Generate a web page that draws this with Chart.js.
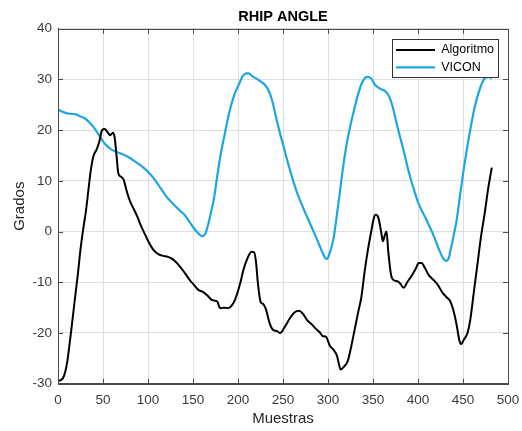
<!DOCTYPE html>
<html>
<head>
<meta charset="utf-8">
<script src="https://cdn.jsdelivr.net/npm/chart.js@4"></script>
<style>
  body { margin: 0; background: #fff; }
</style>
</head>
<body>
<canvas id="hipChart" width="522" height="431"></canvas>
<script>
// Algoritmo (black)
const algX = [0, 4, 7, 10, 13, 16, 19, 22, 25, 28, 31, 34, 36, 38, 40, 43, 46, 49, 52, 55, 58, 61, 63, 65, 67, 70, 73, 76, 80, 84, 88, 92, 96, 100,
    106, 112, 117, 122, 126, 131, 136, 141, 147, 152, 156, 161, 166, 171, 177, 180, 185, 189, 193, 197, 202, 206, 210, 215, 218, 220, 222, 225, 228,
    231, 235, 239, 243, 247, 252, 258, 263, 268, 272, 277, 282, 286, 291, 294, 298, 302, 306, 310, 312, 314, 318, 322, 326, 330, 334, 337, 341, 344,
    348, 351, 353, 356, 359, 361, 363, 365, 367, 370, 373, 377, 380, 384, 388, 393, 397, 401, 404, 408, 412, 417, 422, 427, 432, 436, 440, 443, 446,
    448, 451, 455, 458, 462, 466, 470, 474, 478, 482];
const algY = [-29.4, -29.2, -28.3, -26, -22, -17.5, -13, -8.5, -3.5, 0.5, 4, 8.5, 11.5, 13.8, 15.2, 16.2, 17.8, 20, 20.2, 19.6, 19, 19.5, 18.5, 15, 11.5, 10.8, 10.2, 8.2, 6, 4.5, 3, 1.2, -0.3, -1.8,
    -3.6, -4.5, -4.8, -5, -5.3, -6, -7, -8.2, -9.7, -10.7, -11.5, -11.9, -12.6, -13.5, -13.8, -15.1, -15, -15.1, -14.6, -13.3, -10.5, -7.6, -5.5, -4, -4.1, -6, -10, -13.8, -14.3,
    -15.3, -18, -19.4, -19.6, -20, -18.8, -17, -15.9, -15.6, -16.2, -17.5, -18.3, -19.1, -19.9, -20.6, -20.8, -22.5, -23.3, -24.5, -26, -27.2, -26.6, -25.5, -22.5, -19, -15.5, -13, -7.5, -4,
    0, 2.7, 3.3, 2.7, 0, -1.9, -0.8, 0, -4, -8.5, -9.6, -9.8, -10.2, -11.1, -10, -8.7, -7.5, -6.2, -6.2, -7.3, -8.6, -9.5, -10.5, -12, -13, -13.8, -16, -18.5, -21.5,
    -22.2, -21.3, -20, -17.5, -12, -6.5, -1, 3.5, 8.5, 12.6];

// VICON (blue)
const viconX = [0, 5, 10, 15, 20, 25, 30, 35, 40, 45, 50, 55, 60, 65, 70, 75, 80, 85, 90, 95, 100, 105, 110, 115, 120, 125, 130, 135, 140, 145, 150,
    155, 158, 161, 164, 167, 170, 173, 177, 181, 185, 189, 193, 197, 201, 205, 209, 212, 216, 220, 225, 230, 234, 238, 242, 246, 250, 254, 258, 262,
    266, 270, 274, 278, 282, 286, 290, 294, 297, 299, 302, 306, 310, 313, 317, 321, 325, 329, 333, 337, 341, 344, 348, 352, 356, 360, 364, 368, 372,
    376, 380, 384, 388, 392, 396, 400, 404, 408, 412, 416, 420, 424, 428, 431, 434, 437, 440, 443, 447, 451, 455, 459, 463, 467, 471, 475, 479, 482];
const viconY = [24.1, 23.6, 23.3, 23.2, 23.1, 22.7, 22.3, 21.5, 20.5, 19.2, 17.8, 16.8, 16.1, 15.7, 15.4, 15, 14.5, 13.9, 13.3, 12.6, 11.8, 10.8, 9.6, 8.3, 7, 6, 5.1, 4.2, 3.4, 2.2, 0.9,
    -0.2, -0.7, -0.9, -0.3, 1.5, 3.8, 6.2, 11, 15.5, 19, 22.5, 25.3, 27.5, 29, 30.6, 31.2, 31.2, 30.6, 30.2, 29.6, 28.9, 27.8, 25.8, 22.8, 19.8, 17.2, 14.5, 12, 9.6,
    7.5, 5.7, 4, 2.4, 0.8, -0.8, -2.5, -4.2, -5.2, -5.4, -4.2, -1.5, 3.5, 7.5, 13, 17.5, 21, 24, 26.8, 29, 30.3, 30.5, 30.2, 29, 28.4, 28, 27.6, 26.6, 24.5,
    21.5, 18.7, 16, 13, 10.3, 8, 5.8, 4.2, 2.8, 1.3, -0.2, -2, -3.8, -5.3, -5.8, -5.3, -3, -0.5, 2.3, 7.5, 12.5, 17, 21, 24.5, 27.2, 29.2, 30.4, 30.5, 30.2];

const xTicks = [0, 50, 100, 150, 200, 250, 300, 350, 400, 450, 500];
const yTicks = [-30, -20, -10, 0, 10, 20, 30, 40];

const toPoints = (xs, ys) => xs.map((x, i) => ({ x: x, y: ys[i] }));

const fontFamily = '"Liberation Sans", Arial, Helvetica, sans-serif';
const axisColor = '#4a4a4a';

// box around the axes with inward ticks, like the original plot
const framePlugin = {
    id: 'frame',
    afterLayout(chart) {
        const lg = chart.legend;
        const area = chart.chartArea;
        const w = lg.width;
        lg.left = area.right - 117;
        lg.right = lg.left + w;
        lg.top = area.top + 10;
        lg.bottom = lg.top + 40;
    },
    beforeDatasetsDraw(chart) {
        const { ctx, chartArea: a, scales } = chart;
        ctx.save();
        ctx.strokeStyle = axisColor;
        ctx.lineWidth = 1;
        ctx.beginPath();
        xTicks.forEach(v => {
            const px = Math.round(scales.x.getPixelForValue(v)) + 0.5;
            ctx.moveTo(px, a.bottom); ctx.lineTo(px, a.bottom - 5);
            ctx.moveTo(px, a.top); ctx.lineTo(px, a.top + 5);
        });
        yTicks.forEach(v => {
            const py = Math.round(scales.y.getPixelForValue(v)) + 0.5;
            ctx.moveTo(a.left, py); ctx.lineTo(a.left + 5, py);
            ctx.moveTo(a.right, py); ctx.lineTo(a.right - 5, py);
        });
        ctx.stroke();
        ctx.restore();
    },
    afterDatasetsDraw(chart) {
        const { ctx, chartArea: a } = chart;
        ctx.save();
        ctx.strokeStyle = axisColor;
        ctx.lineWidth = 1;
        ctx.strokeRect(Math.round(a.left) + 0.5, Math.round(a.top) + 0.5,
            Math.round(a.right - a.left), Math.round(a.bottom - a.top));
        // legend box on top of the lines
        const lg = chart.legend;
        const bx = Math.round(lg.left) + 1.5, by = Math.round(lg.top) + 0.5;
        ctx.fillStyle = '#fff';
        ctx.fillRect(bx, by, 106, 38);
        ctx.strokeStyle = '#333';
        ctx.strokeRect(bx, by, 106, 38);
        ctx.restore();
        lg.draw(a);
    }
};

const ctx = document.getElementById('hipChart').getContext('2d');
new Chart(ctx, {
    type: 'line',
    data: {
        datasets: [{
            label: 'Algoritmo',
            data: toPoints(algX, algY),
            borderColor: '#000000',
            backgroundColor: '#000000',
            borderWidth: 2,
            pointRadius: 0,
            pointStyle: 'line',
            cubicInterpolationMode: 'monotone'
        }, {
            label: 'VICON',
            data: toPoints(viconX, viconY),
            borderColor: '#1ca6e2',
            backgroundColor: '#1ca6e2',
            borderWidth: 2.2,
            pointRadius: 0,
            pointStyle: 'line',
            cubicInterpolationMode: 'monotone'
        }]
    },
    plugins: [framePlugin],
    options: {
        responsive: false,
        animation: false,
        layout: { padding: { left: 0, right: 14, top: 0, bottom: 0 } },
        plugins: {
            title: {
                display: true,
                text: 'RHIP ANGLE',
                fullSize: false,
                color: '#000',
                font: { family: fontFamily, size: 14.5, weight: 'bold' },
                padding: { top: 8, bottom: 3.3 }
            },
            legend: {
                position: 'chartArea',
                align: 'start',
                labels: {
                    usePointStyle: true,
                    pointStyleWidth: 39,
                    padding: 5,
                    color: '#000',
                    font: { family: fontFamily, size: 12.5 }
                }
            },
            tooltip: { enabled: false }
        },
        scales: {
            x: {
                type: 'linear',
                min: 0,
                max: 500,
                afterBuildTicks: scale => { scale.ticks = xTicks.map(v => ({ value: v })); },
                afterFit: scale => {
                    scale.height = 47.3;
                    scale.paddingLeft = 0;
                    scale.paddingRight = 0;
                },
                grid: { color: '#dedede', drawTicks: false },
                border: { color: axisColor },
                ticks: {
                    padding: 8,
                    color: '#3a3a3a',
                    maxRotation: 0,
                    font: { family: fontFamily, size: 13.5 }
                },
                title: {
                    display: true,
                    text: 'Muestras',
                    color: '#262626',
                    font: { family: fontFamily, size: 15 },
                    padding: { top: 0, bottom: 3.5 }
                }
            },
            y: {
                min: -30,
                max: 40,
                afterBuildTicks: scale => { scale.ticks = yTicks.map(v => ({ value: v })); },
                afterFit: scale => { scale.width = 58; },
                grid: { color: '#dedede', drawTicks: false },
                border: { color: axisColor },
                ticks: {
                    padding: 6,
                    color: '#3a3a3a',
                    font: { family: fontFamily, size: 13.5 }
                },
                title: {
                    display: true,
                    text: 'Grados',
                    color: '#262626',
                    font: { family: fontFamily, size: 15 },
                    padding: { top: 11, bottom: 0 }
                }
            }
        }
    }
});
</script>
</body>
</html>
